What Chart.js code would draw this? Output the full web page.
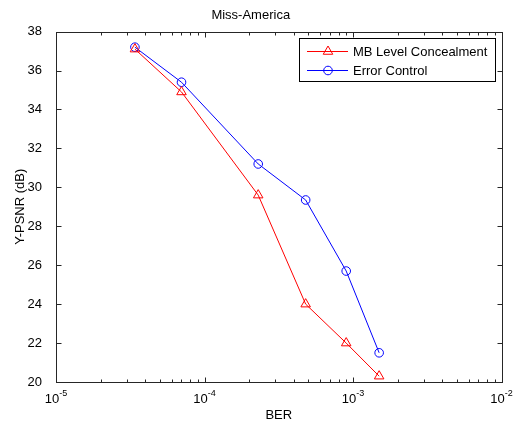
<!DOCTYPE html>
<html>
<head>
<meta charset="utf-8">
<title>Miss-America</title>
<script src="https://cdn.jsdelivr.net/npm/chart.js@4.4.1/dist/chart.umd.min.js"></script>
<style>
    html, body { margin: 0; padding: 0; background: #fff; }
    #chart { display: block; }
</style>
</head>
<body>
<canvas id="chart" width="524" height="423"></canvas>
<script>
// data
const berValues = [3.4e-5, 7e-5, 2.3e-4, 4.8e-4, 9e-4, 1.5e-3];
const mbLevelConcealment = [37.1, 34.9, 29.6, 24.0, 22.0, 20.3];
const errorControl = [37.2, 35.4, 31.2, 29.35, 25.7, 21.5];

const xDecades = [1e-5, 1e-4, 1e-3, 1e-2];
const xExponents = ['-5', '-4', '-3', '-2'];
const yTicks = [20, 22, 24, 26, 28, 30, 32, 34, 36, 38];

const FONT = 'Arial, "Liberation Sans", Helvetica, sans-serif';
const AXIS_COLOR = '#262626';

function toPoints(ys) {
    return berValues.map((x, i) => ({ x: x, y: ys[i] }));
}

// box, inward ticks, x labels with exponents, and the boxed legend
const matlabAxes = {
    id: 'matlabAxes',
    afterDraw(chart) {
        const ctx = chart.ctx;
        const area = chart.chartArea;
        const xs = chart.scales.x;
        const ys = chart.scales.y;
        const L = Math.round(area.left) + 0.5;
        const R = Math.round(area.right) + 0.5;
        const T = Math.round(area.top) + 0.5;
        const B = Math.round(area.bottom) + 0.5;

        ctx.save();
        ctx.strokeStyle = AXIS_COLOR;
        ctx.lineWidth = 1;
        ctx.strokeRect(L, T, R - L, B - T);

        ctx.beginPath();
        // x ticks: decades are longer, minors 2..9
        xDecades.forEach((d, i) => {
            const px = Math.round(xs.getPixelForValue(d)) + 0.5;
            ctx.moveTo(px, B); ctx.lineTo(px, B - 5);
            ctx.moveTo(px, T); ctx.lineTo(px, T + 5);
            if (i < xDecades.length - 1) {
                for (let m = 2; m <= 9; m++) {
                    const mx = Math.round(xs.getPixelForValue(d * m)) + 0.5;
                    ctx.moveTo(mx, B); ctx.lineTo(mx, B - 3);
                    ctx.moveTo(mx, T); ctx.lineTo(mx, T + 3);
                }
            }
        });
        yTicks.forEach(v => {
            const py = Math.round(ys.getPixelForValue(v)) + 0.5;
            ctx.moveTo(L, py); ctx.lineTo(L + 5, py);
            ctx.moveTo(R, py); ctx.lineTo(R - 5, py);
        });
        ctx.stroke();

        // x tick labels: 10 with a raised exponent
        ctx.fillStyle = '#000';
        ctx.textBaseline = 'alphabetic';
        ctx.textAlign = 'left';
        xDecades.forEach((d, i) => {
            const px = xs.getPixelForValue(d);
            ctx.font = '13px ' + FONT;
            const wBase = ctx.measureText('10').width;
            ctx.font = '9px ' + FONT;
            const wExp = ctx.measureText(xExponents[i]).width;
            const start = px - (wBase + wExp) / 2;
            ctx.font = '13px ' + FONT;
            ctx.fillText('10', start, 403);
            ctx.font = '9px ' + FONT;
            ctx.fillText(xExponents[i], start + wBase, 396);
        });

        // legend
        const lx = 299.5, ly = 38.5, lw = 196, lh = 43;
        ctx.fillStyle = '#fff';
        ctx.fillRect(lx, ly, lw, lh);
        ctx.strokeStyle = '#000';
        ctx.strokeRect(lx, ly, lw, lh);
        const rows = [51, 70];
        chart.data.datasets.forEach((ds, i) => {
            const y = rows[i] + 0.5;
            ctx.strokeStyle = ds.borderColor;
            ctx.lineWidth = 1;
            ctx.beginPath();
            ctx.moveTo(307, y);
            ctx.lineTo(348, y);
            ctx.stroke();
            ctx.fillStyle = 'rgba(0,0,0,0)';
            Chart.helpers.drawPoint(ctx, {
                pointStyle: ds.pointStyle,
                radius: ds.pointRadius,
                rotation: 0,
                borderWidth: 1
            }, 328, y);
            ctx.fillStyle = '#000';
            ctx.font = '13px ' + FONT;
            ctx.textBaseline = 'middle';
            ctx.fillText(ds.label, 353, rows[i] + 1);
        });
        ctx.restore();
    }
};

new Chart(document.getElementById('chart'), {
    type: 'line',
    data: {
        datasets: [
            {
                label: 'MB Level Concealment',
                data: toPoints(mbLevelConcealment),
                borderColor: '#ff0000',
                borderWidth: 1,
                pointStyle: 'triangle',
                pointRadius: 5.5,
                pointBorderColor: '#ff0000',
                pointBackgroundColor: 'rgba(0,0,0,0)',
                pointBorderWidth: 1,
                tension: 0,
                fill: false
            },
            {
                label: 'Error Control',
                data: toPoints(errorControl),
                borderColor: '#0000ff',
                borderWidth: 1,
                pointStyle: 'circle',
                pointRadius: 4.3,
                pointBorderColor: '#0000ff',
                pointBackgroundColor: 'rgba(0,0,0,0)',
                pointBorderWidth: 1,
                tension: 0,
                fill: false
            }
        ]
    },
    options: {
        responsive: false,
        animation: false,
        devicePixelRatio: 1,
        events: [],
        layout: { padding: { left: 0, right: 22.5, top: 0, bottom: 0 } },
        plugins: {
            legend: { display: false },
            tooltip: { enabled: false },
            title: {
                display: true,
                text: 'Miss-America',
                color: '#000',
                font: { family: FONT, size: 13, weight: 'normal' },
                padding: { top: 8, bottom: 8 }
            }
        },
        scales: {
            x: {
                type: 'logarithmic',
                min: 1e-5,
                max: 1e-2,
                grid: { display: false },
                border: { display: false },
                ticks: { display: false },
                title: {
                    display: true,
                    text: 'BER',
                    color: '#000',
                    font: { family: FONT, size: 13 },
                    padding: { top: 0, bottom: 0 }
                },
                afterFit: scale => { scale.height = 41; }
            },
            y: {
                min: 20,
                max: 38,
                grid: { display: false },
                border: { display: false },
                afterBuildTicks: scale => { scale.ticks = yTicks.map(v => ({ value: v })); },
                ticks: {
                    color: '#000',
                    padding: 6,
                    font: { family: FONT, size: 13 }
                },
                title: {
                    display: true,
                    text: 'Y-PSNR (dB)',
                    color: '#000',
                    font: { family: FONT, size: 13 },
                    padding: { top: 13, bottom: 0 }
                },
                afterFit: scale => { scale.width = 56; }
            }
        }
    },
    plugins: [matlabAxes]
});
</script>
</body>
</html>
